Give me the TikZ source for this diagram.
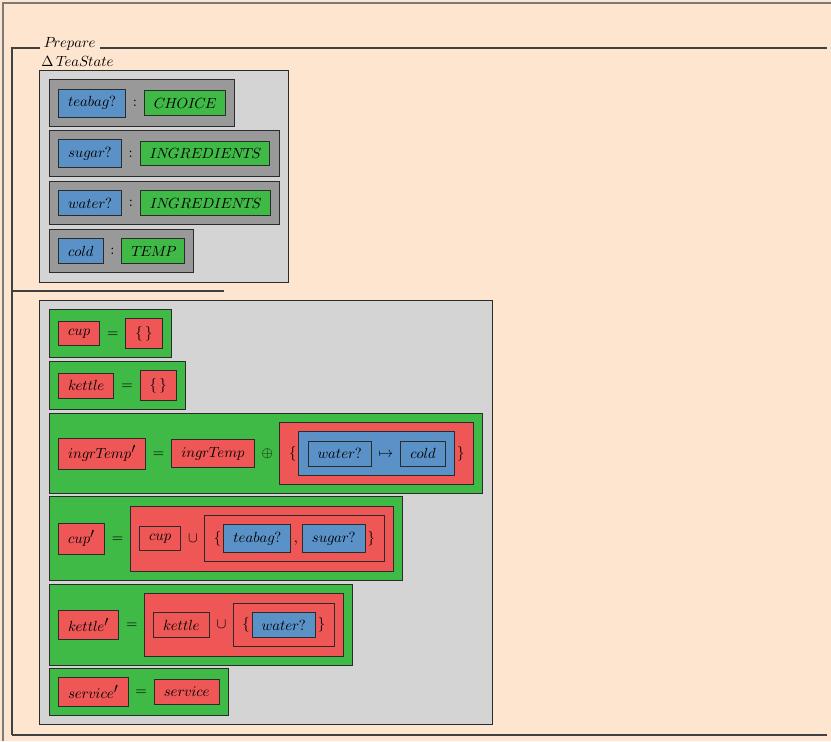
\documentclass[tikz,border=0pt]{standalone}
\usepackage{amsmath}
\usetikzlibrary{positioning,fit}
\definecolor{Paper}{HTML}{FDE5D0}
\definecolor{Pane}{HTML}{D3D4D3}
\definecolor{Decl}{HTML}{999999}
\definecolor{Var}{HTML}{5A92C8}
\definecolor{Type}{HTML}{3FBA46}
\definecolor{Expr}{HTML}{EE5755}
\definecolor{Edge}{HTML}{2B2B2B}
\definecolor{Frame}{HTML}{7A7A7A}
\pgfdeclarelayer{paper}
\pgfdeclarelayer{pane}
\pgfdeclarelayer{row}
\pgfdeclarelayer{outer}
\pgfdeclarelayer{inner}
\pgfsetlayers{paper,pane,row,outer,inner,main}
% math italic names, set without italic corrections
\newcommand{\ident}[1]{{\usefont{OML}{cmm}{m}{it}#1}}
\newcommand{\primed}{$^{\textstyle\prime}$}

\begin{document}
\begin{tikzpicture}[x=0.68pt,y=-0.68pt,node distance=4.5pt,
    leaf/.style={draw=Edge,line width=0.6pt,inner xsep=6.5pt,inner ysep=5pt},
    var/.style={leaf,fill=Var},
    typ/.style={leaf,fill=Type},
    term/.style={leaf,fill=Expr},
    sym/.style={inner sep=0pt,text height=7.5pt,text depth=2.5pt},
    wrap/.style={draw=Edge,line width=0.6pt,inner sep=6pt},
    rule/.style={draw=black!75,line width=0.9pt}]
  \useasboundingbox (0,0) rectangle (831,741);
  \begin{pgfonlayer}{paper}
    \fill[Paper] (0,0) rectangle (831,741);
  \end{pgfonlayer}
  \draw[Frame,line width=0.8pt] (831,3) -- (3,3) -- (3,741);

  % schema header
  \node[inner xsep=2.5pt,inner ysep=0pt,anchor=base west] (prep) at (40,48) {\ident{Prepare}};
  \node[inner sep=0pt,anchor=west] (delta) at (41,61) {$\Delta$\,\ident{TeaState}};
  \draw[rule] (12,735) |- (prep.base west);
  \draw[rule] (prep.base east) -- (827,48);
  \draw[rule] (12,735) -- (827,735);
  \draw[rule] (12,291) -- (224,291);

  % declarations
  \node[var,anchor=west] (tb) at (58,103) {\ident{teabag}?};
  \node[sym,right=of tb] (tbc) {$:$};
  \node[typ,right=of tbc] (tbt) {\ident{CHOICE}};

  \node[var,anchor=west] (sg) at (58,153.5) {\ident{sugar}?};
  \node[sym,right=of sg] (sgc) {$:$};
  \node[typ,right=of sgc] (sgt) {\ident{INGREDIENTS}};

  \node[var,anchor=west] (wt) at (58,203) {\ident{water}?};
  \node[sym,right=of wt] (wtc) {$:$};
  \node[typ,right=of wtc] (wtt) {\ident{INGREDIENTS}};

  \node[var,anchor=west] (cd) at (58,251) {\ident{cold}};
  \node[sym,right=of cd] (cdc) {$:$};
  \node[typ,right=of cdc] (cdt) {\ident{TEMP}};

  \begin{pgfonlayer}{row}
    \node[wrap,fill=Decl,fit=(tb)(tbt)] (d1) {};
    \node[wrap,fill=Decl,fit=(sg)(sgt)] (d2) {};
    \node[wrap,fill=Decl,fit=(wt)(wtt)] (d3) {};
    \node[wrap,fill=Decl,fit=(cd)(cdt)] (d4) {};
  \end{pgfonlayer}

  % predicates
  \node[term,anchor=west] (cpz) at (58,333.5) {\ident{cup}};
  \node[sym,right=of cpz] (cpze) {$=$};
  \node[term,right=of cpze] (cpzs) {$\{\,\}$};

  \node[term,anchor=west] (ktz) at (58,385.5) {\ident{kettle}};
  \node[sym,right=of ktz] (ktze) {$=$};
  \node[term,right=of ktze] (ktzs) {$\{\,\}$};

  \node[term,anchor=west] (itn) at (58,453.5) {\ident{ingrTemp}\primed};
  \node[sym,right=of itn] (ite) {$=$};
  \node[term,right=of ite] (ito) {\ident{ingrTemp}};
  \node[sym,right=of ito] (itp) {$\oplus$};
  \node[sym,right=10.5pt of itp] (itl) {$\{$};
  \node[var,right=7.5pt of itl] (itw) {\ident{water}?};
  \node[sym,right=of itw] (itm) {$\mapsto$};
  \node[var,right=of itm] (itc) {\ident{cold}};
  \node[sym,right=7.5pt of itc] (itr) {$\}$};

  \node[term,anchor=west] (cpn) at (58,538.5) {\ident{cup}\primed};
  \node[sym,right=of cpn] (cpe) {$=$};
  \node[term,right=10.5pt of cpe] (cpo) {\ident{cup}};
  \node[sym,right=of cpo] (cpu) {$\cup$};
  \node[sym,right=10.5pt of cpu] (cpl) {$\{$};
  \node[var,right=1.2pt of cpl] (cpt) {\ident{teabag}?};
  \node[sym,right=1.5pt of cpt] (cpk) {$,$};
  \node[var,right=2.5pt of cpk] (cps) {\ident{sugar}?};
  \node[sym,right=1.2pt of cps] (cpr) {$\}$};

  \node[term,anchor=west] (ktn) at (58,625) {\ident{kettle}\primed};
  \node[sym,right=of ktn] (kte) {$=$};
  \node[term,right=10.5pt of kte] (kto) {\ident{kettle}};
  \node[sym,right=of kto] (ktu) {$\cup$};
  \node[sym,right=10.5pt of ktu] (ktl) {$\{$};
  \node[var,right=1.2pt of ktl] (ktw) {\ident{water}?};
  \node[sym,right=1.2pt of ktw] (ktr) {$\}$};

  \node[term,anchor=west] (svn) at (58,692) {\ident{service}\primed};
  \node[sym,right=of svn] (sve) {$=$};
  \node[term,right=of sve] (svo) {\ident{service}};

  \begin{pgfonlayer}{inner}
    \node[wrap,fill=Var,fit=(itw)(itc)] (itmap) {};
    \node[wrap,fill=Expr,fit=(cpl)(cpt)(cps)(cpr)] (cpset) {};
    \node[wrap,fill=Expr,fit=(ktl)(ktw)(ktr)] (ktset) {};
  \end{pgfonlayer}
  \begin{pgfonlayer}{outer}
    \node[wrap,fill=Expr,fit=(itl)(itmap)(itr)] (itset) {};
    \node[wrap,fill=Expr,fit=(cpo)(cpset)] (cpun) {};
    \node[wrap,fill=Expr,fit=(kto)(ktset)] (ktun) {};
  \end{pgfonlayer}
  \begin{pgfonlayer}{row}
    \node[wrap,fill=Type,fit=(cpz)(cpzs)] (p1) {};
    \node[wrap,fill=Type,fit=(ktz)(ktzs)] (p2) {};
    \node[wrap,fill=Type,fit=(itn)(itset)] (p3) {};
    \node[wrap,fill=Type,fit=(cpn)(cpun)] (p4) {};
    \node[wrap,fill=Type,fit=(ktn)(ktun)] (p5) {};
    \node[wrap,fill=Type,fit=(svn)(svo)] (p6) {};
  \end{pgfonlayer}

  \begin{pgfonlayer}{pane}
    \node[wrap,fill=Pane,fit=(d1)(d2)(d3)(d4)] (decl) {};
    \node[wrap,fill=Pane,fit=(p1)(p2)(p3)(p4)(p5)(p6)] (pred) {};
  \end{pgfonlayer}
\end{tikzpicture}
\end{document}
